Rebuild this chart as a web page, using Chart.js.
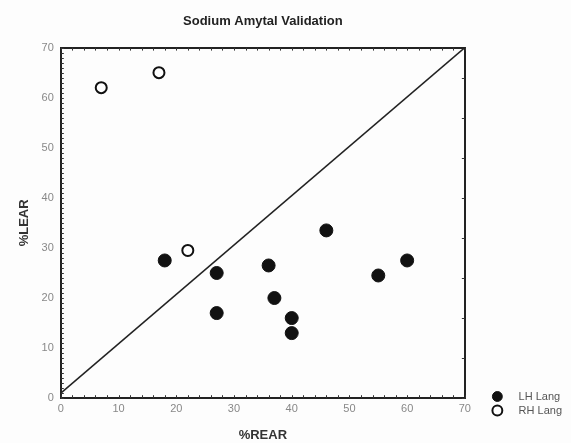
<!DOCTYPE html>
<html>
<head>
<meta charset="utf-8">
<script src="https://cdn.jsdelivr.net/npm/chart.js@4/dist/chart.umd.min.js"></script>
<style>
  html, body { margin: 0; padding: 0; background: #fdfdfd; }
  #wrap { width: 571px; height: 443px; }
</style>
</head>
<body>
<div id="wrap"><canvas id="grafico" width="571" height="443"></canvas></div>
<script>
// valores
const lhRear = [18, 27, 27, 36, 37, 40, 40, 46, 55, 60];
const lhLear = [27.5, 25, 17, 26.5, 20, 16, 13, 33.5, 24.5, 27.5];
const rhRear = [7, 17, 22];
const rhLear = [62, 65, 29.5];
const linhaX = [0, 70];
const linhaY = [1, 70];
const tickLabels = [0, 10, 20, 30, 40, 50, 60, 70];

const pares = (xs, ys) => xs.map((x, i) => ({ x: x, y: ys[i] }));

// tracinhos internos nos quatro lados
const tracinhos = {
  id: "tracinhos",
  afterDraw(chart) {
    const ctx = chart.ctx;
    const a = chart.chartArea;
    const sx = chart.scales.x, sy = chart.scales.y;
    ctx.save();
    ctx.strokeStyle = "#333";
    ctx.lineWidth = 1;
    ctx.beginPath();
    for (let v = 0; v <= 70; v += 2) {
      const px = Math.round(sx.getPixelForValue(v)) + 0.5;
      ctx.moveTo(px, a.bottom); ctx.lineTo(px, a.bottom - 3);
      ctx.moveTo(px, a.top); ctx.lineTo(px, a.top + 3);
    }
    for (let v = 0; v <= 70; v += 1) {
      const py = Math.round(sy.getPixelForValue(v)) + 0.5;
      ctx.moveTo(a.left, py); ctx.lineTo(a.left + 3, py);
    }
    for (let v = 0; v <= 70; v += 8) {
      const py = Math.round(sy.getPixelForValue(v)) + 0.5;
      ctx.moveTo(a.right, py); ctx.lineTo(a.right - 3, py);
    }
    ctx.stroke();
    ctx.restore();
  }
};

// empurra a legenda para o canto de baixo, à direita
const moveLegenda = {
  id: "moveLegenda",
  afterLayout(chart) {
    const l = chart.legend;
    const dx = 26, dy = -24;
    l.left += dx; l.right += dx;
    l.top += dy; l.bottom += dy;
  }
};

new Chart(document.getElementById("grafico"), {
  type: "scatter",
  data: {
    datasets: [
      {
        label: "LH Lang",
        data: pares(lhRear, lhLear),
        pointRadius: 6.5,
        pointHoverRadius: 6.5,
        backgroundColor: "#111",
        borderColor: "#111",
        borderWidth: 1
      },
      {
        label: "RH Lang",
        data: pares(rhRear, rhLear),
        pointRadius: 5.5,
        pointHoverRadius: 5.5,
        backgroundColor: "#fff",
        borderColor: "#111",
        borderWidth: 2
      },
      {
        label: "diagonal",
        type: "line",
        data: pares(linhaX, linhaY),
        borderColor: "#222",
        borderWidth: 1.5,
        pointRadius: 0,
        fill: false
      }
    ]
  },
  options: {
    responsive: false,
    animation: false,
    layout: { padding: { left: 17, top: 8, right: 25, bottom: 0 } },
    plugins: {
      title: {
        display: true,
        text: "Sodium Amytal Validation",
        fullSize: false,
        color: "#222",
        font: { family: "Liberation Sans", size: 13, weight: "bold" },
        padding: { top: 6, bottom: 18 }
      },
      legend: {
        position: "right",
        align: "end",
        labels: {
          usePointStyle: true,
          pointStyle: "circle",
          boxWidth: 7,
          boxHeight: 7,
          padding: 3,
          color: "#555",
          font: { family: "Liberation Sans", size: 11 },
          filter: item => item.text.trim() !== "diagonal",
          generateLabels: chart => Chart.defaults.plugins.legend.labels.generateLabels(chart)
            .map(item => Object.assign(item, { text: "    " + item.text }))
        }
      },
      tooltip: { enabled: false }
    },
    scales: {
      x: {
        type: "linear",
        min: 0,
        max: 70,
        afterBuildTicks: s => { s.ticks = tickLabels.map(v => ({ value: v })); },
        grid: { display: false, drawTicks: false },
        border: { display: true, color: "#222", width: 2 },
        ticks: {
          padding: 4,
          color: "#888",
          font: { family: "Liberation Sans", size: 11 }
        },
        title: {
          display: true,
          text: "%REAR",
          color: "#333",
          font: { family: "Liberation Sans", size: 13, weight: "bold" },
          padding: { top: 8, bottom: 0 }
        }
      },
      xTopo: {
        type: "linear",
        position: "top",
        min: 0,
        max: 70,
        grid: { display: false, drawTicks: false },
        border: { display: true, color: "#222", width: 2 },
        ticks: { display: false }
      },
      y: {
        type: "linear",
        min: 0,
        max: 70,
        afterBuildTicks: s => { s.ticks = tickLabels.map(v => ({ value: v })); },
        grid: { display: false, drawTicks: false },
        border: { display: true, color: "#222", width: 2 },
        ticks: {
          padding: 7,
          color: "#888",
          font: { family: "Liberation Sans", size: 11 }
        },
        title: {
          display: true,
          text: "%LEAR",
          color: "#333",
          font: { family: "Liberation Sans", size: 13, weight: "bold" },
          padding: { top: 0, bottom: 2 }
        }
      },
      yDireita: {
        type: "linear",
        position: "right",
        min: 0,
        max: 70,
        grid: { display: false, drawTicks: false },
        border: { display: true, color: "#222", width: 2 },
        ticks: { display: false }
      }
    }
  },
  plugins: [tracinhos, moveLegenda]
});
</script>
</body>
</html>
